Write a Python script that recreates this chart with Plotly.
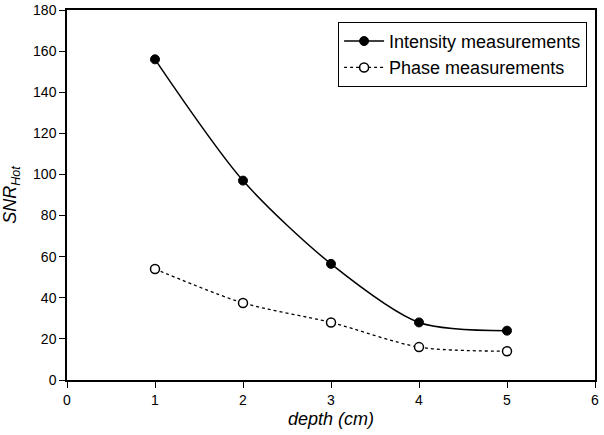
import plotly.graph_objects as go

depth = [1, 2, 3, 4, 5]
intensity = [156, 97, 56.5, 28, 24]
phase = [54, 37.5, 28, 16, 14]

font = "Liberation Sans, Arial, sans-serif"

fig = go.Figure()
fig.add_trace(go.Scatter(
    x=depth, y=intensity, mode="lines+markers", name="Intensity measurements",
    line=dict(color="black", width=1.5, shape="spline", smoothing=0.8),
    marker=dict(symbol="circle", size=9, color="black", line=dict(color="black", width=1)),
))
fig.add_trace(go.Scatter(
    x=depth, y=phase, mode="lines+markers", name="Phase measurements",
    line=dict(color="black", width=1.3, dash="dot", shape="spline", smoothing=0.8),
    marker=dict(symbol="circle", size=9, color="white", line=dict(color="black", width=1.5)),
))

fig.update_layout(
    width=604, height=435,
    margin=dict(l=67, r=9, t=10, b=55, autoexpand=False),
    paper_bgcolor="white", plot_bgcolor="white",
    font=dict(family=font, size=14, color="black"),
    showlegend=True,
    legend=dict(x=0.985, y=0.968, xanchor="right", yanchor="top",
                bordercolor="black", borderwidth=1, bgcolor="white",
                font=dict(size=18), tracegroupgap=0, itemwidth=40),
    xaxis=dict(range=[0, 6], tickvals=[0, 1, 2, 3, 4, 5, 6], showgrid=False, zeroline=False,
               showline=True, linecolor="black", linewidth=1.5, mirror=True,
               ticks="outside", ticklen=6, tickcolor="black", automargin=False,
               ticklabeloverflow="allow",
               title=dict(text="<i>depth (cm)</i>", font=dict(size=18), standoff=6)),
    yaxis=dict(range=[0, 180], tickvals=list(range(0, 181, 20)), showgrid=False, zeroline=False,
               showline=True, linecolor="black", linewidth=1.5, mirror=True,
               ticks="outside", ticklen=6, tickcolor="black", automargin=False,
               ticklabeloverflow="allow",
               title=dict(text="<i>SNR<sub>Hot</sub></i>", font=dict(size=18), standoff=12)),
)

fig.write_html("out.html", config={"displayModeBar": False},
               post_script="document.body.style.margin='0';")
